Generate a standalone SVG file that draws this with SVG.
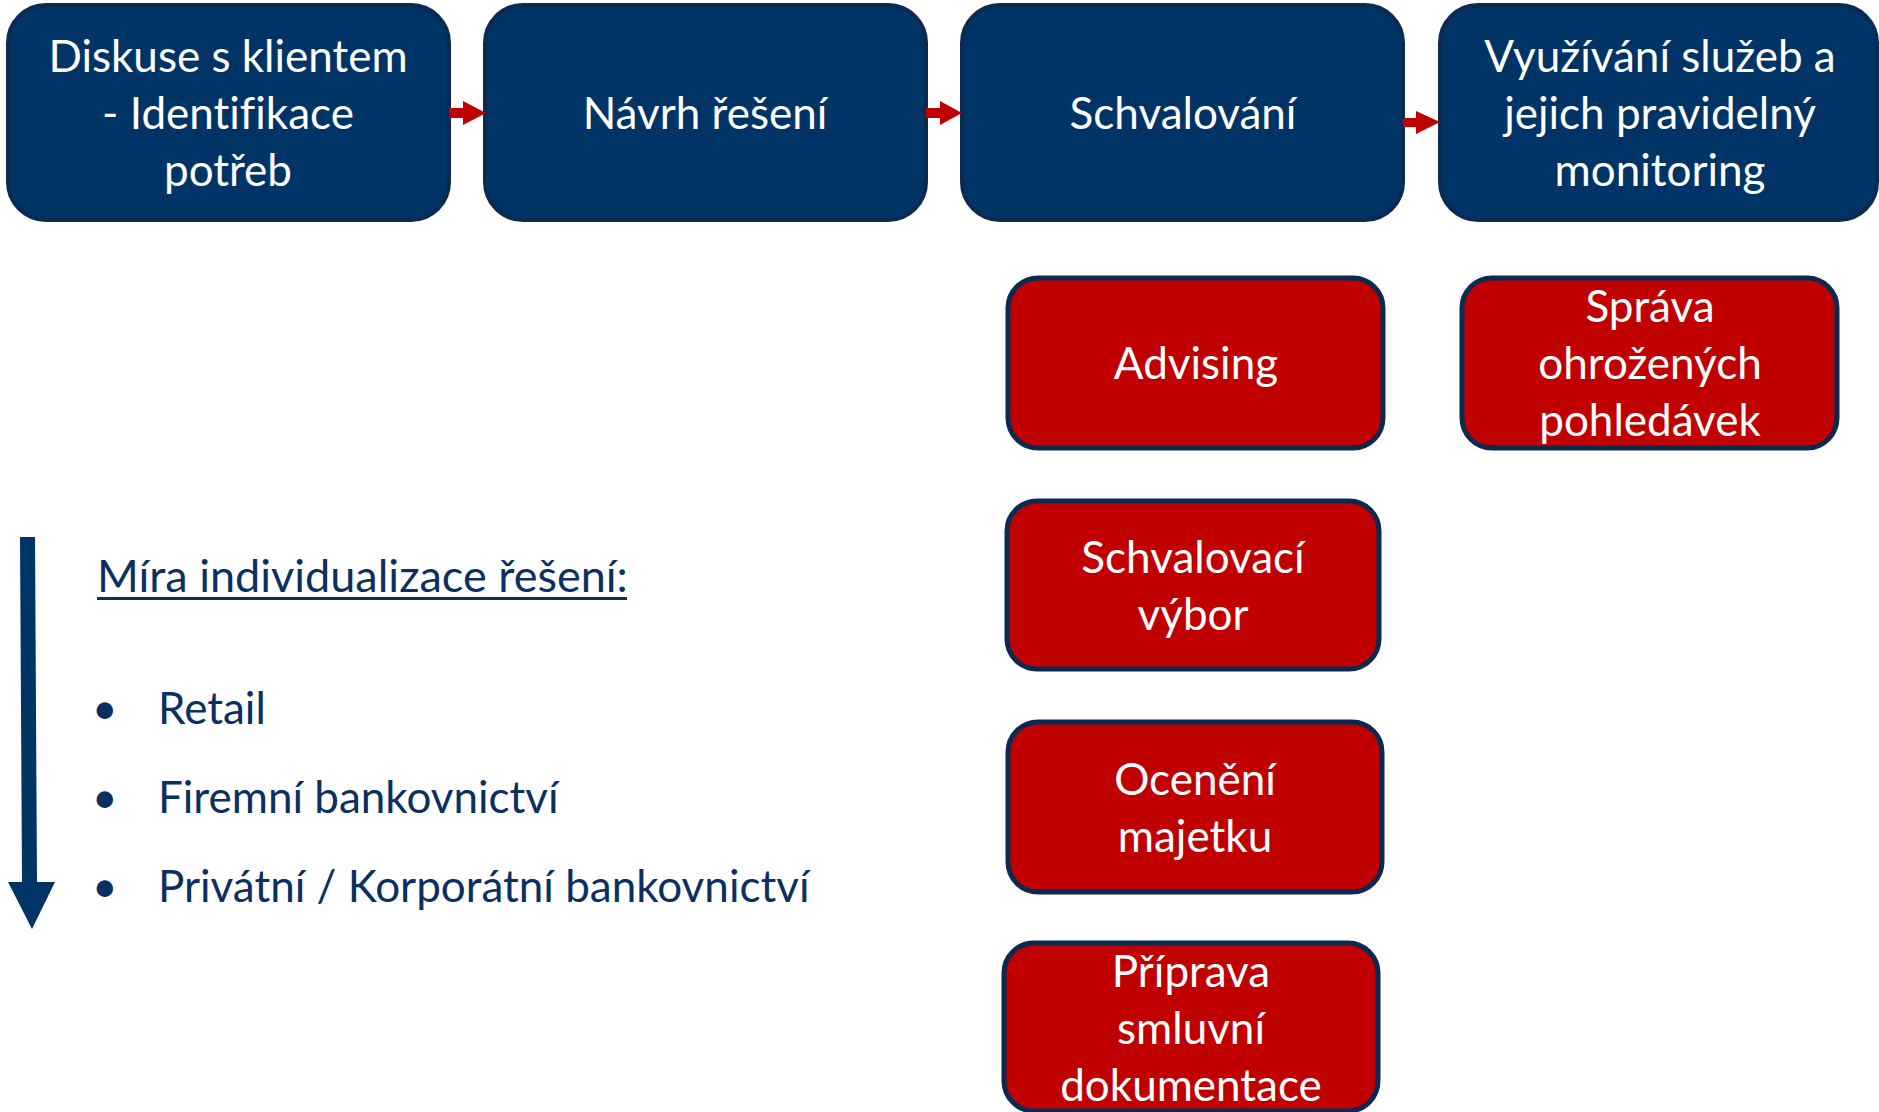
<svg xmlns="http://www.w3.org/2000/svg" width="1879" height="1112" viewBox="0 0 1879 1112">
<style>
.step{fill:#003366;stroke:#0c2a50;stroke-width:4}
.sub{fill:#c00000;stroke:#0c2a50;stroke-width:5}
.wt{font-family:Lato,"Liberation Sans",sans-serif;font-size:44px;fill:#ffffff;text-anchor:middle;font-variant-ligatures:none}
.nt{font-family:Lato,"Liberation Sans",sans-serif;font-size:44px;fill:#0a2f60;font-variant-ligatures:none}
.title{font-size:45px}
.conn{fill:#c00000}
</style>
<rect width="1879" height="1112" fill="#ffffff"/>
<g id="node-diskuse">
<rect class="step" x="8" y="5" width="441" height="215" rx="38"/>
<text class="wt" x="228" y="72">Diskuse s klientem</text>
<text class="wt" x="228" y="129">- Identifikace</text>
<text class="wt" x="228" y="186">potřeb</text>
</g>
<g id="node-navrh">
<rect class="step" x="485" y="5" width="441" height="215" rx="38"/>
<text class="wt" x="705" y="129">Návrh řešení</text>
</g>
<g id="node-schvalovani">
<rect class="step" x="962" y="5" width="441" height="215" rx="38"/>
<text class="wt" x="1183" y="129">Schvalování</text>
</g>
<g id="node-vyuzivani">
<rect class="step" x="1440" y="5" width="437" height="215" rx="38"/>
<text class="wt" x="1660" y="72">Využívání služeb a</text>
<text class="wt" x="1660" y="129">jejich pravidelný</text>
<text class="wt" x="1660" y="186">monitoring</text>
</g>
<g id="node-advising">
<rect class="sub" x="1008" y="278" width="375" height="170" rx="30"/>
<text class="wt" x="1196" y="379">Advising</text>
</g>
<g id="node-sprava">
<rect class="sub" x="1462" y="278" width="375" height="170" rx="30"/>
<text class="wt" x="1650" y="322">Správa</text>
<text class="wt" x="1650" y="379">ohrožených</text>
<text class="wt" x="1650" y="436">pohledávek</text>
</g>
<g id="node-vybor">
<rect class="sub" x="1007" y="501" width="372" height="168" rx="30"/>
<text class="wt" x="1193" y="573">Schvalovací</text>
<text class="wt" x="1193" y="630">výbor</text>
</g>
<g id="node-oceneni">
<rect class="sub" x="1008" y="722" width="374" height="170" rx="30"/>
<text class="wt" x="1195" y="795">Ocenění</text>
<text class="wt" x="1195" y="852">majetku</text>
</g>
<g id="node-priprava">
<rect class="sub" x="1004" y="943" width="374" height="168" rx="30"/>
<text class="wt" x="1191" y="987">Příprava</text>
<text class="wt" x="1191" y="1044">smluvní</text>
<text class="wt" x="1191" y="1101">dokumentace</text>
</g>
<g id="connectors">
<polygon class="conn" points="449,108 463,108 463,101 486,113 463,125 463,118 449,118"/>
<polygon class="conn" points="926,108 940,108 940,101 962,113 940,125 940,118 926,118"/>
<polygon class="conn" points="1403,118 1416,118 1416,111 1440,122 1416,134 1416,127 1403,127"/>
</g>
<g id="scale">
<polygon fill="#003366" points="20,537 35,537 37,882 55,882 32,929 8,882 22,882"/>
<text class="nt title" x="97" y="592">Míra individualizace řešení:</text>
<rect x="97" y="597" width="530" height="3" fill="#0a2f60"/>
<text class="nt" x="92" y="724">•</text>
<text class="nt" x="158" y="724">Retail</text>
<text class="nt" x="92" y="813">•</text>
<text class="nt" x="158" y="813">Firemní bankovnictví</text>
<text class="nt" x="92" y="902">•</text>
<text class="nt" x="158" y="902">Privátní / Korporátní bankovnictví</text>
</g>
</svg>
